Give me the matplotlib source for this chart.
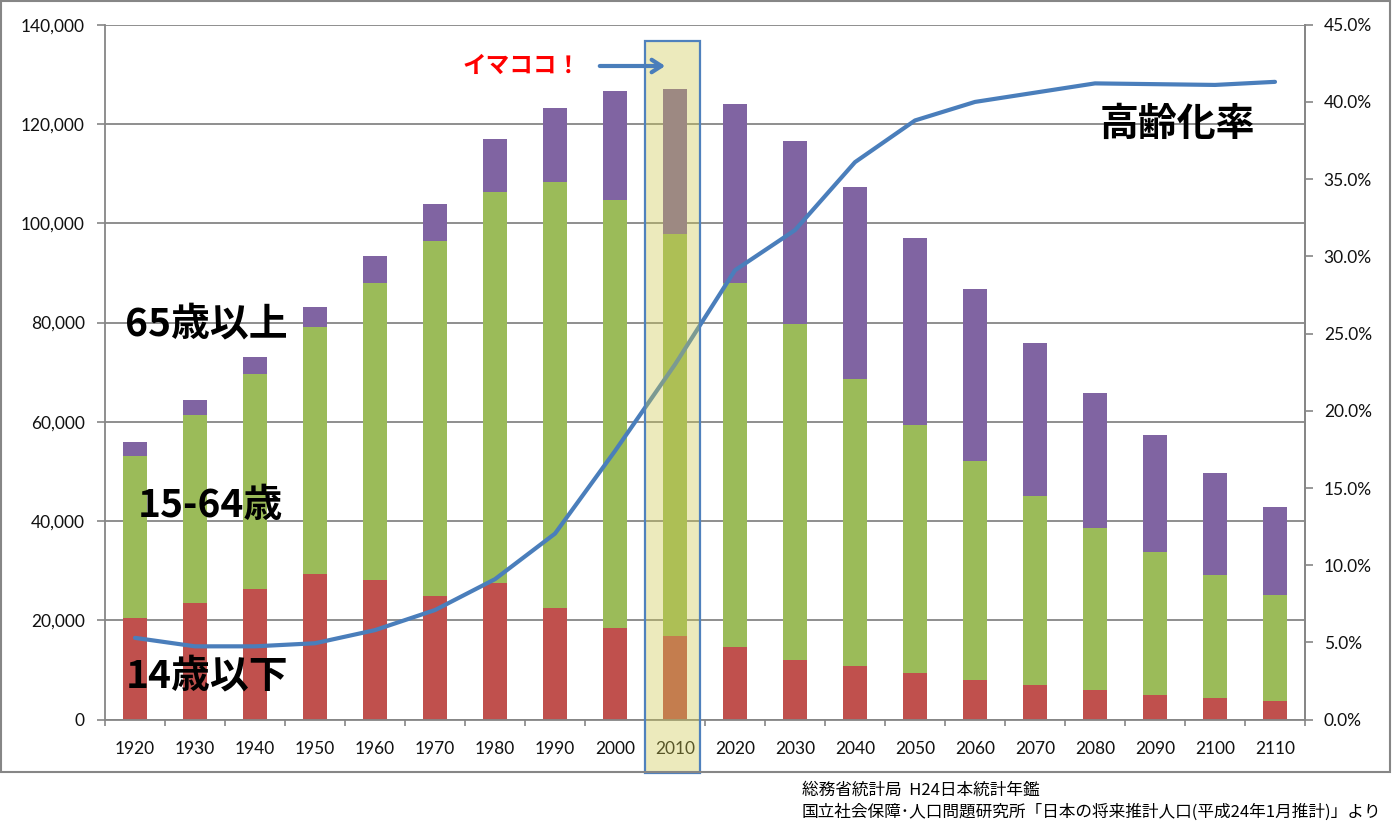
import matplotlib
matplotlib.use('Agg')
import matplotlib.pyplot as plt
from matplotlib.patches import Rectangle
from matplotlib.ticker import FuncFormatter, FixedLocator

plt.rcParams['font.family'] = ['Lato', 'Noto Sans CJK JP', 'DejaVu Sans']

# 年次と年齢3区分別人口（千人）
years = ['1920', '1930', '1940', '1950', '1960', '1970', '1980', '1990', '2000', '2010',
         '2020', '2030', '2040', '2050', '2060', '2070', '2080', '2090', '2100', '2110']
age_0_14 = [20416, 23579, 26369, 29428, 28067, 24823, 27507, 22486, 18472, 16803,
            14568, 12039, 10732, 9387, 7912, 6900, 6000, 5000, 4400, 3800]
age_15_64 = [32605, 37807, 43252, 49658, 60002, 71566, 78835, 85904, 86220, 81032,
             73408, 67730, 57866, 50013, 44183, 38100, 32700, 28700, 24700, 21300]
age_65 = [2941, 3064, 3454, 4109, 5350, 7393, 10647, 14895, 22005, 29246,
          36124, 36849, 38678, 37676, 34642, 30950, 27200, 23600, 20500, 17700]
# 高齢化率（%）
aging_rate = [5.3, 4.75, 4.75, 4.95, 5.8, 7.1, 9.1, 12.05, 17.4, 23.0,
              29.1, 31.7, 36.1, 38.8, 40.0, 40.6, 41.2, 41.15, 41.1, 41.3]

red = '#C0504D'
green = '#9BBB59'
purple = '#8064A2'
blue = '#4A7EBB'
grey = '#868686'

W, H = 1393, 834
fig = plt.figure(figsize=(W / 100, H / 100), dpi=100)
ax = fig.add_axes([105 / W, 1 - 719.7 / H, 1200 / W, 695 / H])

x = list(range(len(years)))
bottom2 = [a + b for a, b in zip(age_0_14, age_15_64)]
ax.bar(x, age_0_14, width=0.4, color=red, zorder=2)
ax.bar(x, age_15_64, width=0.4, bottom=age_0_14, color=green, zorder=2)
ax.bar(x, age_65, width=0.4, bottom=bottom2, color=purple, zorder=2)

ax.set_xlim(-0.5, len(years) - 0.5)
ax.set_ylim(0, 140000)
ax.set_yticks(range(0, 140001, 20000))
ax.yaxis.set_major_formatter(FuncFormatter(lambda v, p: f'{int(v):,}'))
ax.grid(axis='y', color=grey, lw=1.3, zorder=0)
ax.set_axisbelow(True)

ax.set_xticks(x)
ax.set_xticklabels(years)
ax.xaxis.set_minor_locator(FixedLocator([i - 0.5 for i in range(len(years) + 1)]))
ax.tick_params(axis='x', which='major', length=0, pad=15, labelsize=12.5, colors='#111111')
ax.tick_params(axis='x', which='minor', length=4.5, width=1.2, color=grey)
ax.tick_params(axis='y', length=5.5, width=1.2, color=grey, pad=9, labelsize=12.5, labelcolor='#111111')

ax.spines['top'].set_visible(False)
for s in ['left', 'bottom', 'right']:
    ax.spines[s].set_color(grey)
    ax.spines[s].set_linewidth(1.3)

ax2 = ax.twinx()
ax2.plot(x, [r / 100 for r in aging_rate], color=blue, lw=3, solid_capstyle='round', zorder=3)
ax2.set_ylim(0, 0.45)
ax2.set_yticks([i * 0.05 for i in range(10)])
ax2.yaxis.set_major_formatter(FuncFormatter(lambda v, p: f'{v * 100:.1f}%'))
ax2.tick_params(axis='y', length=5.5, width=1.2, color=grey, pad=8, labelsize=12.5, labelcolor='#111111')
for s in ['top', 'left', 'bottom']:
    ax2.spines[s].set_visible(False)
ax2.spines['right'].set_color(grey)
ax2.spines['right'].set_linewidth(1.3)

# 2010年の強調枠
hl = Rectangle((8.5, -0.0767), 0.917, 1.0533, transform=ax2.get_xaxis_transform(),
               facecolor=(205 / 255, 200 / 255, 80 / 255, 0.38), edgecolor='none',
               clip_on=False, zorder=10)
ax2.add_patch(hl)
hl_edge = Rectangle((8.5, -0.0767), 0.917, 1.0533, transform=ax2.get_xaxis_transform(),
                    facecolor='none', edgecolor='#4F81BD', lw=1.6, clip_on=False, zorder=11)
ax2.add_patch(hl_edge)

# 注釈テキスト
big = dict(family=['Noto Sans CJK JP', 'DejaVu Sans'], fontsize=28, fontweight='bold',
           ha='center', va='center', color='black')
fig.text(206 / W, 1 - 324 / H, '65歳以上', **big)
fig.text(210 / W, 1 - 505 / H, '15-64歳', **big)
fig.text(207 / W, 1 - 676 / H, '14歳以下', **big)
fig.text(1177 / W, 1 - 124 / H, '高齢化率', **big)
fig.text(522 / W, 1 - 66 / H, 'イマココ！', family=['Noto Sans CJK JP', 'DejaVu Sans'],
         fontsize=17, fontweight='bold', color='#FF0000', ha='center', va='center')
fig.add_artist(plt.Annotation('', xy=(668, H - 66), xytext=(597, H - 66),
                              xycoords='figure pixels', textcoords='figure pixels',
                              arrowprops=dict(arrowstyle='->,head_length=0.7,head_width=0.45',
                                              color=blue, lw=3)))

note = dict(family=['Noto Sans CJK JP', 'DejaVu Sans'], fontsize=12, ha='left', va='center',
            color='black')
fig.text(802 / W, 1 - 790 / H, '総務省統計局  H24日本統計年鑑', **note)
fig.text(802 / W, 1 - 812 / H, '国立社会保障･人口問題研究所「日本の将来推計人口(平成24年1月推計)」より', **note)

# 外枠
fig.add_artist(Rectangle((1 / W, 1 - 772 / H), 1389 / W, 771 / H, transform=fig.transFigure,
                         facecolor='none', edgecolor=grey, lw=1.5))

fig.savefig('out.png', dpi=100)
